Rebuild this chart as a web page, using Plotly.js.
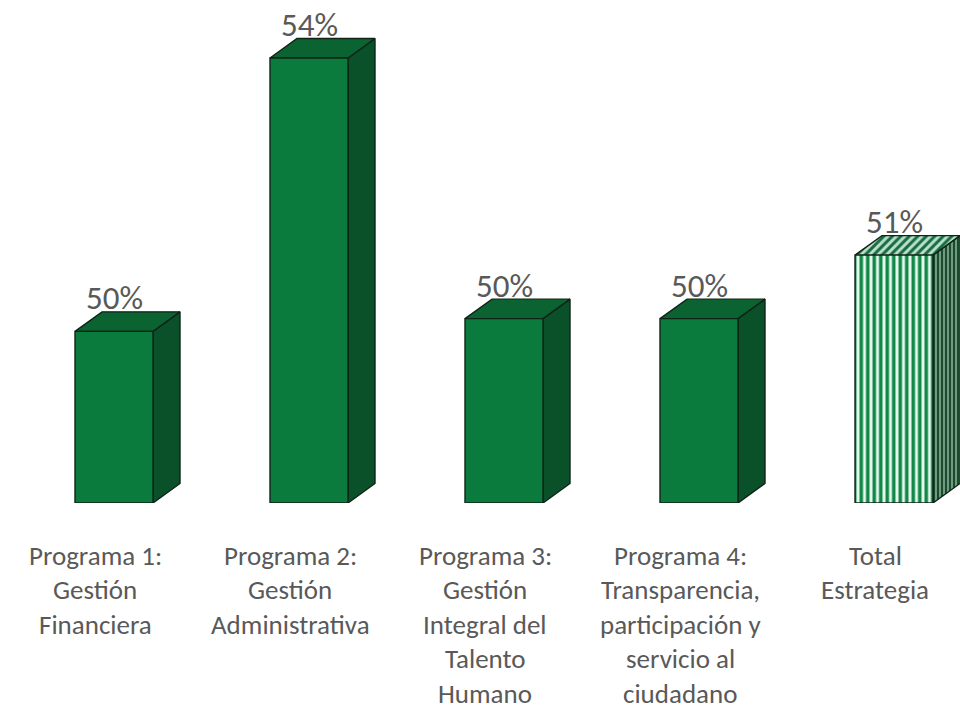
<!DOCTYPE html>
<html><head><meta charset="utf-8">
<script src="https://cdn.plot.ly/plotly-3.0.1.min.js"></script>
<style>html,body{margin:0;padding:0;background:#fff}#chart{width:960px;height:711px}</style>
</head><body><div id="chart"></div>
<script>
// ---- data ----
const categories = [
  ["Programa 1:", "Gestión", "Financiera"],
  ["Programa 2:", "Gestión", "Administrativa"],
  ["Programa 3:", "Gestión", "Integral del", "Talento", "Humano"],
  ["Programa 4:", "Transparencia,", "participación y", "servicio al", "ciudadano"],
  ["Total", "Estrategia"]
];
const values = [49.7, 54.0, 49.9, 49.9, 50.9];   // percent
const isTotal = [false, false, false, false, true];

// ---- geometry constants (in axis units) ----
const axisMin = 47;
const pxPerUnitY = 63.57;
const pxPerCat = 195;
const frontLeft = -20 / pxPerCat, frontRight = 58 / pxPerCat;
const depthX = 27 / pxPerCat, depthY = 19.5 / pxPerUnitY;

const font = "Carlito, Lato, 'Liberation Sans', sans-serif";
const edge = {color: '#0f2417', width: 1.4};
const traces = [];

values.forEach((v, i) => {
  const xl = i + frontLeft, xr = i + frontRight;
  const tot = isTotal[i];
  const side = {
    type: 'scatter', mode: 'lines', fill: 'toself', hoverinfo: 'skip', showlegend: false,
    x: [xr, xr + depthX, xr + depthX, xr, xr],
    y: [axisMin, axisMin + depthY, v + depthY, v, axisMin],
    line: edge, fillcolor: '#0a5028'
  };
  const top = {
    type: 'scatter', mode: 'lines', fill: 'toself', hoverinfo: 'skip', showlegend: false,
    x: [xl, xr, xr + depthX, xl + depthX, xl],
    y: [v, v, v + depthY, v + depthY, v],
    line: edge, fillcolor: '#0b6332'
  };
  const front = {
    type: 'scatter', mode: 'lines', fill: 'toself', hoverinfo: 'skip', showlegend: false,
    x: [xl, xr, xr, xl, xl],
    y: [axisMin, axisMin, v, v, axisMin],
    line: edge, fillcolor: '#0b7b3d'
  };
  if (tot) {
    side.fillcolor = '#4f7d60';
    side.fillpattern = {shape: '|', fgcolor: '#1b4a2e', bgcolor: '#6f9c80', size: 4, solidity: 0.5};
    top.fillcolor = '#a9d3b9';
    top.fillpattern = {shape: '/', fgcolor: '#176b42', bgcolor: '#b9e0c8', size: 6, solidity: 0.5};
    front.fillcolor = '#e6f7ec';
    front.fillpattern = {shape: '|', fgcolor: '#128848', bgcolor: '#e8f9ee', size: 6.5, solidity: 0.55};
  }
  traces.push(side, top, front);
});

const annotations = [];
values.forEach((v, i) => {
  annotations.push({
    x: i + (frontLeft + frontRight) / 2, y: v, xref: 'x', yref: 'y',
    text: Math.round(v) + '%', showarrow: false, yanchor: 'middle', yshift: 33,
    font: {family: font, size: 33, color: '#595959'}
  });
  categories[i].forEach((line, k) => {
    annotations.push({
      x: i, y: axisMin, xref: 'x', yref: 'y', text: line, showarrow: false,
      yanchor: 'middle', yshift: -(52 + 34.6 * k),
      font: {family: font, size: 27, color: '#595959'}
    });
  });
});

const layout = {
  width: 960, height: 711,
  margin: {l: 0, r: 0, t: 0, b: 208},
  paper_bgcolor: '#ffffff', plot_bgcolor: '#ffffff',
  showlegend: false,
  xaxis: {range: [-95 / pxPerCat, (960 - 95) / pxPerCat], visible: false, fixedrange: true},
  yaxis: {range: [axisMin, axisMin + 503 / pxPerUnitY], visible: false, fixedrange: true},
  annotations: annotations
};
Plotly.newPlot('chart', traces, layout, {displayModeBar: false, staticPlot: true});
</script></body></html>
